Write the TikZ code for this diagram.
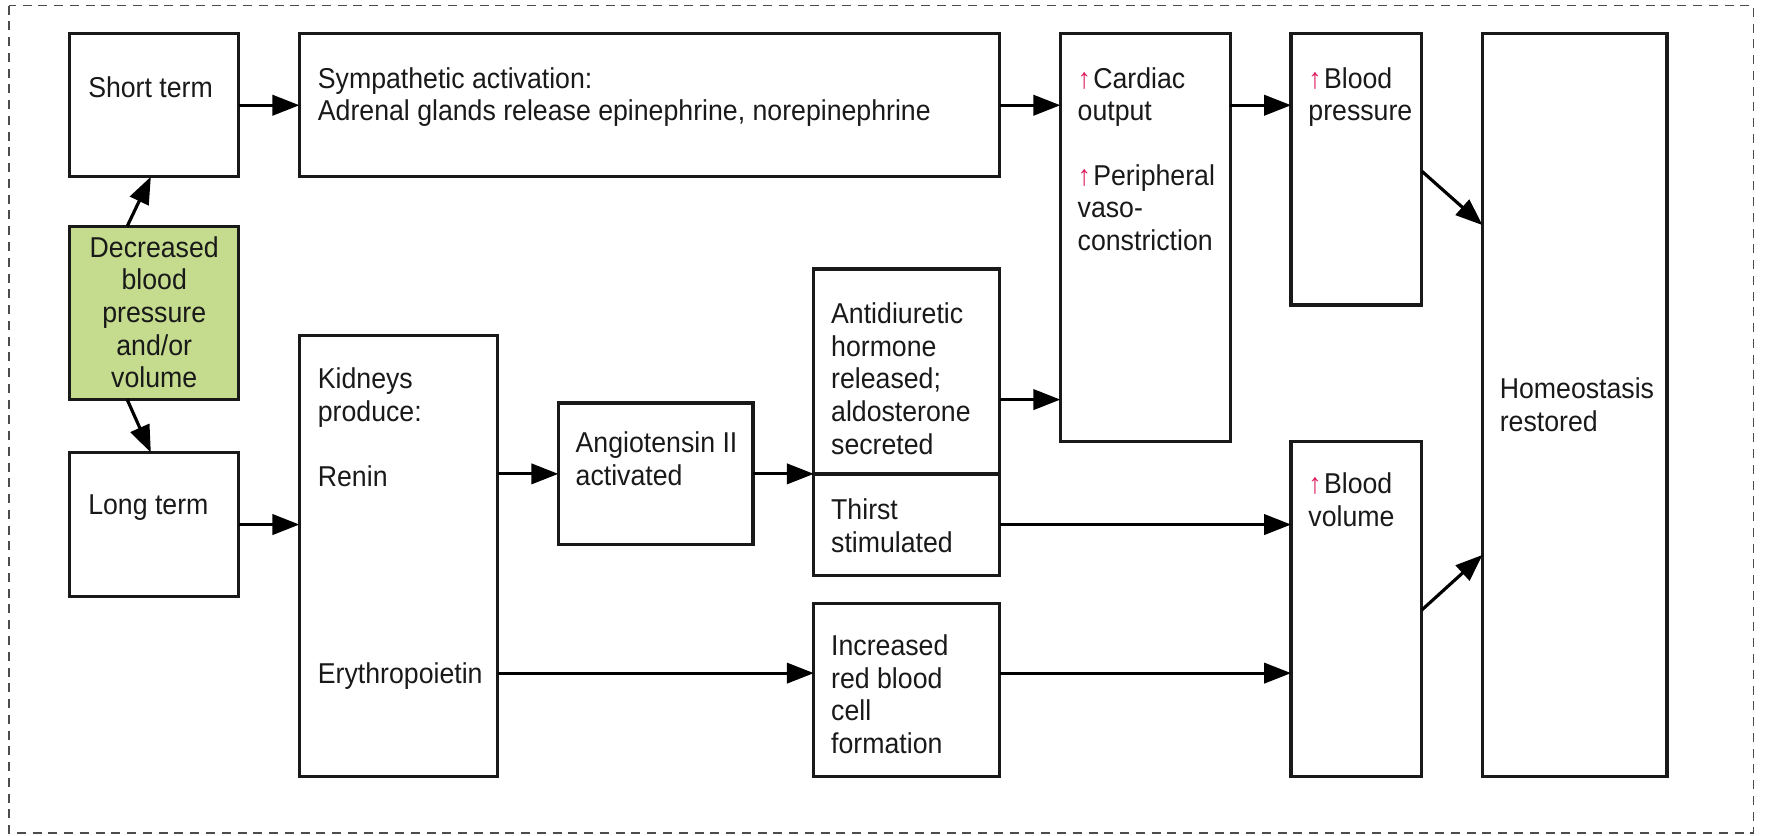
\documentclass[tikz,border=0pt]{standalone}
\usepackage{fontspec}
\setmainfont{Liberation Sans}[FakeStretch=0.93]
\usetikzlibrary{arrows.meta,calc,fit}
\definecolor{grn}{RGB}{197,220,142}
\definecolor{upred}{RGB}{222,30,95}
\newcommand{\up}{\textcolor{upred}{↑}\hspace{1pt}}
\newcommand{\T}{\rule{0pt}{10pt}}
\begin{document}
\begin{tikzpicture}[x=0.5pt,y=-0.5pt,
  box/.style={draw=black!90,line width=1.45pt,inner sep=0pt,outer sep=0pt},
  txt/.style={anchor=north west,inner sep=0pt,align=left,text=black!90,font=\fontsize{12.75}{14.5}\selectfont},
  arr/.style={line width=1.4pt,-{Triangle[length=12pt,width=9pt]}},
  frameline/.style={draw=black!70,dash pattern=on 4pt off 3pt,line width=0.6pt}]
\useasboundingbox (0,0) rectangle (1568,742);
\draw[frameline] (8,5) rectangle (1558,740);
% boxes
\node[box,fit={(62,30) (212,157)}] (short) {};
\node[box,fit={(266,30) (888,157)}] (symp) {};
\node[box,fit={(942,30) (1093,392)}] (card) {};
\node[box,fit={(1147,30) (1263,271)}] (bp) {};
\node[box,fit={(1317,30) (1481,690)}] (home) {};
\node[box,fill=grn,fit={(62,201) (212,355)}] (green) {};
\node[box,fit={(62,402) (212,530)}] (long) {};
\node[box,fit={(266,298) (442,690)}] (kid) {};
\node[box,fit={(496,358) (669,484)}] (ang) {};
\node[box,fit={(723,239) (888,421)}] (adh) {};
\node[box,fit={(723,421) (888,511)}] (thirst) {};
\node[box,fit={(723,536) (888,690)}] (rbc) {};
\node[box,fit={(1147,392) (1263,690)}] (bv) {};
% texts
\node[txt] (tshort) at (78,66) {\T Short term};
\node[txt] (tsymp) at (282,58) {\T Sympathetic activation:\\Adrenal glands release epinephrine, norepinephrine};
\node[txt] (tcard1) at (957,58) {\T\up Cardiac\\output};
\node[txt] (tcard2) at (957,144) {\T\up Peripheral\\vaso-\\constriction};
\node[txt] (tbp) at (1162,58) {\T\up Blood\\pressure};
\node[txt] (thome) at (1332,334) {\T Homeostasis\\restored};
\node[txt,anchor=north,align=center] (tgreen) at (137,208) {\T Decreased\\blood\\pressure\\and/or\\volume};
\node[txt] (tlong) at (78,437) {\T Long term};
\node[txt] (tkid1) at (282,325) {\T Kidneys\\produce:};
\node[txt] (tkid2) at (282,412) {\T Renin};
\node[txt] (tkid3) at (282,587) {\T Erythropoietin};
\node[txt] (tang) at (511,382) {\T Angiotensin II\\activated};
\node[txt] (tadh) at (738,267) {\T Antidiuretic\\hormone\\released;\\aldosterone\\secreted};
\node[txt] (tthirst) at (738,441) {\T Thirst\\stimulated};
\node[txt] (trbc) at (738,562) {\T Increased\\red blood\\cell\\formation};
\node[txt] (tbv) at (1162,418) {\T\up Blood\\volume};
% helper coordinates
\coordinate (ya) at (0,355);
\coordinate (yb) at (0,598);
\coordinate (p1) at (0,152);
\coordinate (p2) at (0,200);
\coordinate (p3) at (0,542);
\coordinate (p4) at (0,493);
% arrows
\draw[arr] ($(green.north west)!0.34!(green.north east)$) -- ($(short.south west)!0.48!(short.south east)$);
\draw[arr] ($(green.south west)!0.34!(green.south east)$) -- ($(long.north west)!0.48!(long.north east)$);
\draw[arr] (short.east) -- (short.east -| symp.west);
\draw[arr] (symp.east) -- (symp.east -| card.west);
\draw[arr] (card.east |- symp.east) -- (bp.west |- symp.east);
\draw[arr] (long.east) -- (long.east -| kid.west);
\draw[arr] (kid.east |- ang.west) -- (ang.west);
\draw[arr] (ang.east) -- (ang.east -| adh.west);
\draw[arr] (adh.east |- ya) -- (card.west |- ya);
\draw[arr] (thirst.east) -- (thirst.east -| bv.west);
\draw[arr] (kid.east |- yb) -- (rbc.west |- yb);
\draw[arr] (rbc.east |- yb) -- (bv.west |- yb);
\draw[arr] (bp.east |- p1) -- (home.west |- p2);
\draw[arr] (bv.east |- p3) -- (home.west |- p4);
\end{tikzpicture}
\end{document}
